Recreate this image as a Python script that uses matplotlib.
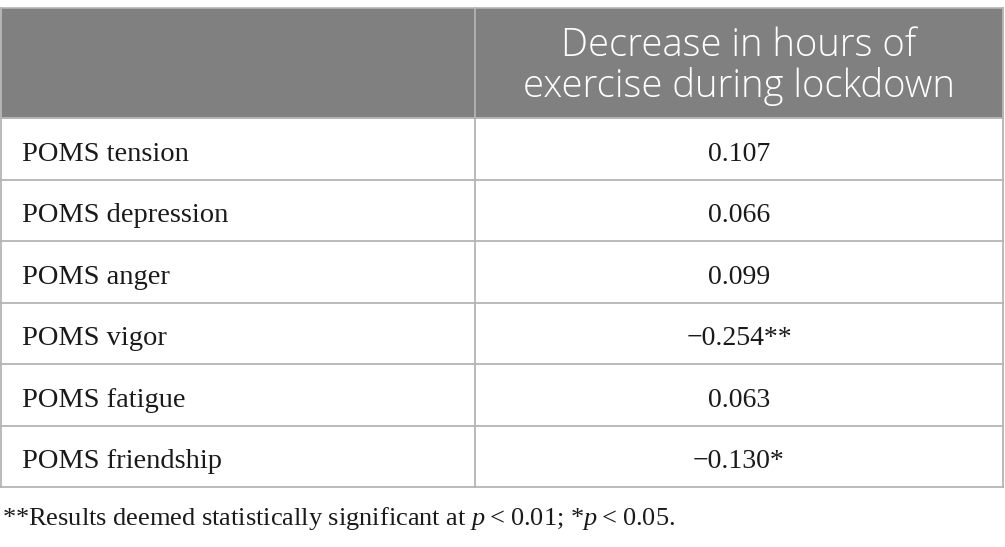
import matplotlib
matplotlib.use("Agg")
import matplotlib.pyplot as plt
from matplotlib.patches import Rectangle

## TABLE CONTENT ##
row_labels = ["POMS tension", "POMS depression", "POMS anger",
              "POMS vigor", "POMS fatigue", "POMS friendship"]
row_values = ["0.107", "0.066", "0.099", "\u22120.254**", "0.063", "\u22120.130*"]
header_text = ["Decrease in hours of", "exercise during lockdown"]
footnote = ("**Results deemed statistically significant at $\\mathit{p}$\u2009<\u20090.01; "
            "*$\\mathit{p}$\u2009<\u20090.05.")

## LAYOUT (pixels) ##
W, H = 1005, 547
left, right = 1, 1003
col_split = 475
top = 8
head_bottom = 118
row_h = 61.5
grey = "#808080"
line_col = "#b4b4b4"

plt.rcParams['mathtext.fontset'] = 'custom'
plt.rcParams['mathtext.rm'] = 'Liberation Serif'
plt.rcParams['mathtext.it'] = 'Liberation Serif:italic'

fig = plt.figure(figsize=(W / 100, H / 100), dpi=100)
ax = fig.add_axes([0, 0, 1, 1])
ax.set_xlim(0, W)
ax.set_ylim(H, 0)
ax.axis("off")

#header band
ax.add_patch(Rectangle((left, top), right - left, head_bottom - top,
                       facecolor=grey, edgecolor=line_col, lw=1.2))
ax.text((col_split + right) / 2, 56, header_text[0], color="white",
        fontsize=27.5, family="Open Sans", fontweight="light", ha="center", va="baseline")
ax.text((col_split + right) / 2, 97, header_text[1], color="white",
        fontsize=27.5, family="Open Sans", fontweight="light", ha="center", va="baseline")

#body rows
n = len(row_labels)
bottom = head_bottom + n * row_h
for i in range(n + 1):
    y = head_bottom + i * row_h
    ax.plot([left, right], [y, y], color=line_col, lw=1.3)
ax.plot([left, left], [top, bottom], color=line_col, lw=1.3)
ax.plot([right, right], [top, bottom], color=line_col, lw=1.3)
ax.plot([col_split, col_split], [top, bottom], color=line_col, lw=1.3)

for i, (lab, val) in enumerate(zip(row_labels, row_values)):
    yc = head_bottom + (i + 0.5) * row_h
    ax.text(22, yc + 12, lab, fontsize=20.5, family="Liberation Serif",
            color="#1a1a1a", ha="left", va="baseline")
    ax.text((col_split + right) / 2, yc + 12, val, fontsize=20,
            family="Liberation Serif", color="#1a1a1a", ha="center", va="baseline")

#footnote
ax.text(2, 525, footnote, fontsize=19, family="Liberation Serif",
        color="#1a1a1a", ha="left", va="baseline")

fig.savefig("out.png", dpi=100)
